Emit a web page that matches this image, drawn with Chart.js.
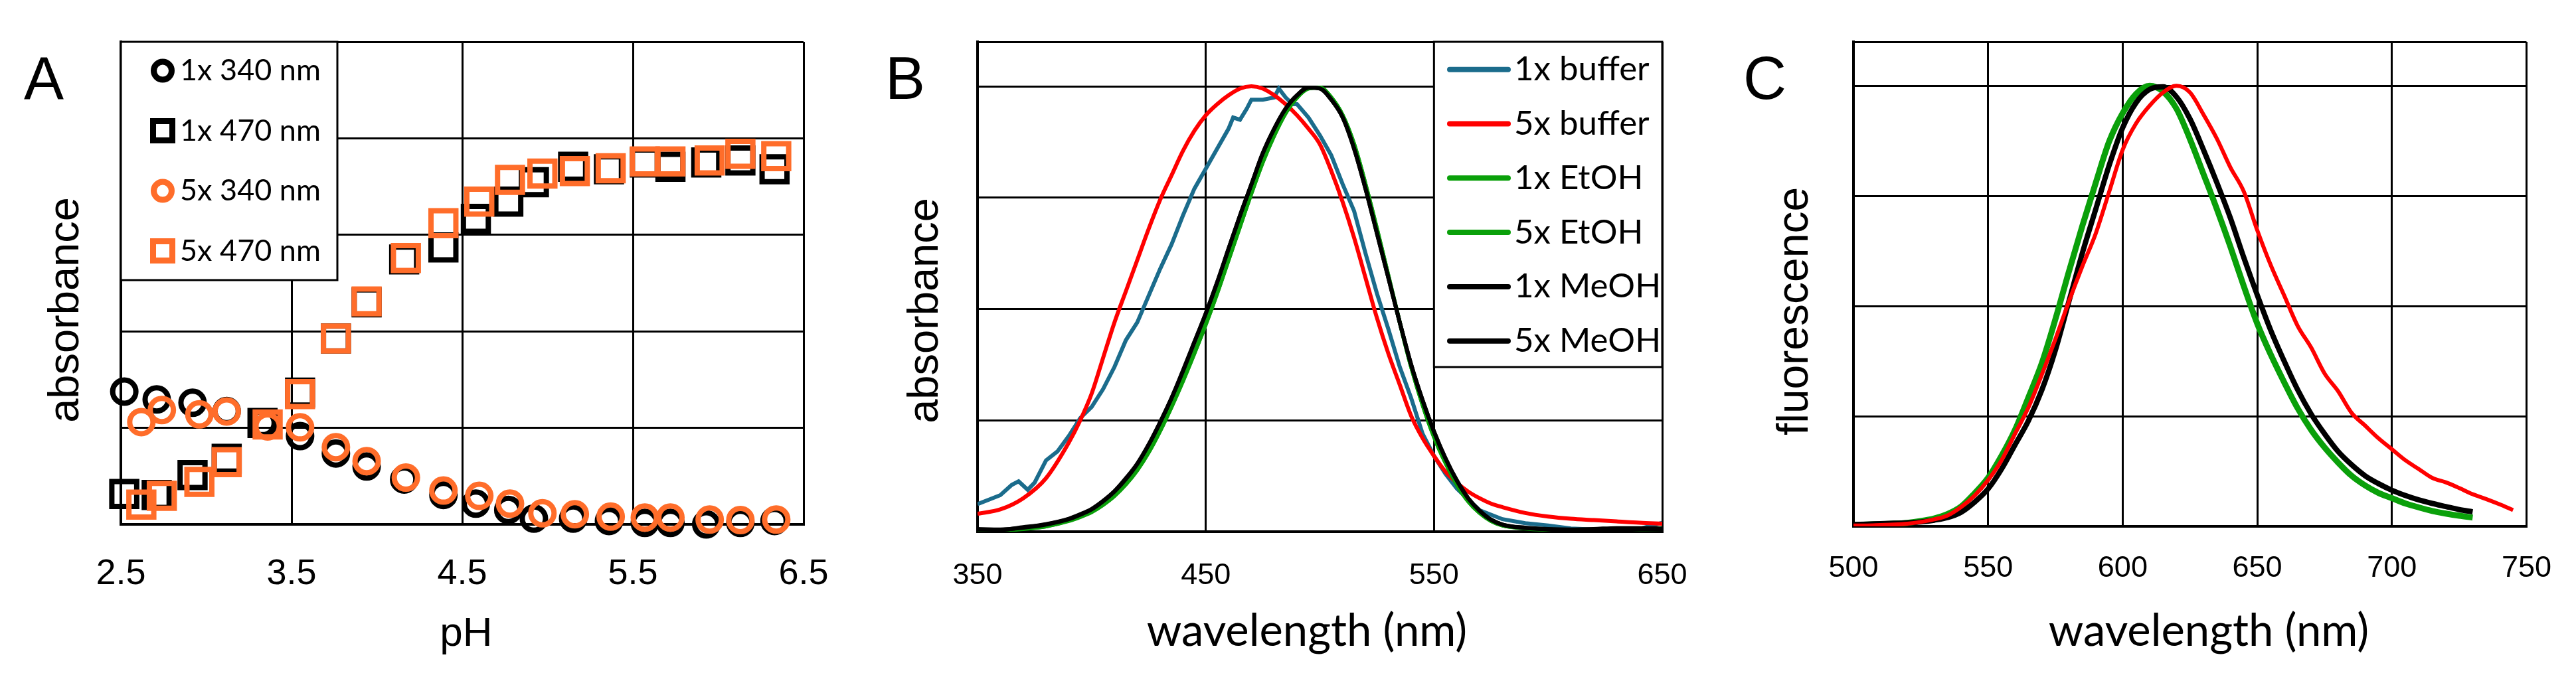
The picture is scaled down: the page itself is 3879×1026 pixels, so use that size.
<!DOCTYPE html>
<html>
<head>
<meta charset="utf-8">
<script src="https://cdn.jsdelivr.net/npm/chart.js@4.4.1/dist/chart.umd.min.js"></script>
<style>
  html, body { margin: 0; padding: 0; background: #fff; }
  body { width: 3879px; height: 1026px; position: relative; overflow: hidden; }
  canvas { position: absolute; top: 0; }
</style>
</head>
<body>
<canvas id="chartA" width="1300" height="1026" style="left:0px"></canvas>
<canvas id="chartB" width="1300" height="1026" style="left:1300px"></canvas>
<canvas id="chartC" width="1279" height="1026" style="left:2600px"></canvas>
<script>
// ---- panel A: absorbance vs pH ----
const pH1x = [2.52, 2.71, 2.92, 3.12, 3.33, 3.55, 3.76, 3.94, 4.16, 4.39, 4.58, 4.77, 4.92, 5.15, 5.36, 5.57, 5.72, 5.93, 6.13, 6.33];
const pH5x = [2.62, 2.74, 2.96, 3.12, 3.36, 3.55, 3.76, 3.94, 4.17, 4.39, 4.60, 4.78, 4.97, 5.16, 5.37, 5.57, 5.72, 5.95, 6.13, 6.34];
const abs340_1x = [0.275, 0.259, 0.252, 0.235, 0.210, 0.183, 0.147, 0.120, 0.093, 0.061, 0.043, 0.030, 0.012, 0.012, 0.007, 0.003, 0.003, 0.000, 0.003, 0.007];
const abs470_1x = [0.063, 0.061, 0.102, 0.136, 0.210, 0.273, 0.385, 0.460, 0.549, 0.574, 0.633, 0.669, 0.709, 0.741, 0.736, 0.750, 0.741, 0.750, 0.754, 0.736];
const abs340_5x = [0.212, 0.237, 0.228, 0.234, 0.203, 0.201, 0.160, 0.131, 0.097, 0.070, 0.059, 0.043, 0.023, 0.021, 0.016, 0.014, 0.014, 0.010, 0.009, 0.010];
const abs470_5x = [0.041, 0.059, 0.088, 0.129, 0.207, 0.270, 0.385, 0.462, 0.552, 0.624, 0.669, 0.714, 0.727, 0.732, 0.738, 0.752, 0.752, 0.754, 0.768, 0.763];
const ticksAx = [2.5, 3.5, 4.5, 5.5, 6.5];
const ticksAy = [0, 0.2, 0.4, 0.6, 0.8, 1.0];

// ---- panel B: absorbance spectra ----
const wlB = [350, 360, 370, 380, 390, 395, 400, 405, 410, 415, 420, 425, 430, 435, 440, 445, 450, 455, 460, 465,
  470, 475, 480, 485, 490, 495, 500, 505, 510, 515, 520, 525, 530, 535, 540, 545, 550, 555, 560, 565,
  570, 575, 580, 590, 600, 610, 620, 630, 640, 650];
const wlBuffer1x = [350, 355, 360, 365, 368, 372, 375, 380, 385, 390, 395, 400, 405, 410, 415, 420, 425, 430, 435, 440,
  445, 450, 455, 460, 462, 465, 468, 470, 475, 480, 482, 485, 488, 490, 495, 500, 505, 510, 515, 520,
  525, 530, 535, 540, 545, 550, 555, 560, 565, 570, 575, 580, 590, 600, 610, 620, 630, 640, 650];
const buffer1x = [0.062, 0.072, 0.082, 0.105, 0.113, 0.094, 0.110, 0.160, 0.180, 0.215, 0.255, 0.280, 0.320, 0.370, 0.430, 0.470, 0.530, 0.590, 0.645, 0.710,
  0.770, 0.815, 0.860, 0.905, 0.930, 0.925, 0.950, 0.970, 0.970, 0.975, 0.995, 0.975, 0.960, 0.960, 0.930, 0.890, 0.845, 0.780, 0.720, 0.625,
  0.535, 0.455, 0.370, 0.300, 0.220, 0.170, 0.130, 0.097, 0.072, 0.048, 0.038, 0.028, 0.019, 0.014, 0.007, 0.005, 0.005, 0.006, 0.020];
const buffer5x = [0.040, 0.050, 0.075, 0.120, 0.200, 0.250, 0.310, 0.390, 0.470, 0.540, 0.610, 0.680, 0.745, 0.800, 0.855, 0.900, 0.935, 0.960, 0.980, 0.995,
  1.000, 0.995, 0.980, 0.960, 0.935, 0.905, 0.870, 0.810, 0.740, 0.660, 0.570, 0.480, 0.400, 0.330, 0.260, 0.210, 0.170, 0.135, 0.110, 0.090,
  0.075, 0.063, 0.055, 0.042, 0.034, 0.029, 0.026, 0.023, 0.020, 0.018];
const etoh1x = [0.003, 0.003, 0.006, 0.012, 0.024, 0.033, 0.044, 0.060, 0.080, 0.106, 0.138, 0.178, 0.226, 0.280, 0.338, 0.400, 0.465, 0.535, 0.610, 0.685,
  0.760, 0.830, 0.890, 0.940, 0.975, 0.995, 0.997, 0.975, 0.935, 0.870, 0.780, 0.680, 0.575, 0.470, 0.370, 0.285, 0.213, 0.155, 0.106, 0.068,
  0.042, 0.024, 0.014, 0.007, 0.004, 0.003, 0.003, 0.003, 0.004, 0.006];
const etoh5x = [0.004, 0.003, 0.007, 0.012, 0.025, 0.034, 0.045, 0.061, 0.081, 0.107, 0.139, 0.179, 0.227, 0.281, 0.339, 0.401, 0.466, 0.536, 0.611, 0.686,
  0.760, 0.830, 0.890, 0.940, 0.975, 0.995, 0.997, 0.975, 0.935, 0.870, 0.780, 0.680, 0.575, 0.470, 0.370, 0.285, 0.213, 0.155, 0.106, 0.068,
  0.042, 0.024, 0.014, 0.008, 0.005, 0.004, 0.004, 0.005, 0.006, 0.008];
const meoh1x = [0.005, 0.005, 0.009, 0.016, 0.028, 0.038, 0.050, 0.068, 0.090, 0.118, 0.152, 0.195, 0.245, 0.300, 0.360, 0.425, 0.490, 0.560, 0.635, 0.710,
  0.780, 0.850, 0.905, 0.950, 0.980, 0.997, 0.995, 0.970, 0.930, 0.860, 0.770, 0.670, 0.570, 0.470, 0.375, 0.295, 0.225, 0.165, 0.115, 0.075,
  0.047, 0.027, 0.016, 0.008, 0.005, 0.004, 0.004, 0.004, 0.005, 0.005];
const meoh5x = [0.006, 0.004, 0.010, 0.017, 0.029, 0.039, 0.051, 0.069, 0.091, 0.120, 0.153, 0.196, 0.246, 0.300, 0.362, 0.426, 0.490, 0.560, 0.636, 0.710,
  0.780, 0.850, 0.905, 0.950, 0.980, 0.997, 0.995, 0.970, 0.930, 0.860, 0.770, 0.670, 0.570, 0.470, 0.375, 0.295, 0.225, 0.165, 0.115, 0.075,
  0.047, 0.027, 0.016, 0.009, 0.006, 0.005, 0.006, 0.008, 0.008, 0.007];
const ticksBx = [350, 450, 550, 650];
const ticksBy = [0, 0.25, 0.5, 0.75, 1.0, 1.1];

// ---- panel C: fluorescence spectra ----
const wlC = [500, 505, 510, 515, 520, 525, 530, 535, 540, 545, 550, 555, 560, 565, 570, 575, 580, 585, 590, 595,
  600, 605, 610, 615, 620, 625, 630, 635, 640, 645, 650, 655, 660, 665, 670, 675, 680, 685, 690, 695,
  700, 705, 710, 715, 720, 725, 730, 735, 740, 745];
const fluorGreen = [0.003, 0.004, 0.005, 0.006, 0.008, 0.012, 0.018, 0.028, 0.045, 0.075, 0.110, 0.160, 0.219, 0.293, 0.371, 0.470, 0.578, 0.682, 0.780, 0.874,
  0.938, 0.982, 1.000, 0.987, 0.948, 0.879, 0.800, 0.720, 0.635, 0.545, 0.460, 0.390, 0.327, 0.268, 0.219, 0.179, 0.145, 0.115, 0.093, 0.076,
  0.064, 0.052, 0.043, 0.035, 0.029, 0.024, 0.020];
const fluorBlack = [0.004, 0.005, 0.006, 0.007, 0.008, 0.010, 0.014, 0.020, 0.032, 0.055, 0.085, 0.130, 0.185, 0.240, 0.310, 0.400, 0.510, 0.620, 0.720, 0.820,
  0.905, 0.962, 0.992, 0.998, 0.975, 0.925, 0.855, 0.780, 0.700, 0.610, 0.525, 0.445, 0.375, 0.310, 0.255, 0.210, 0.170, 0.140, 0.115, 0.097,
  0.082, 0.070, 0.060, 0.052, 0.045, 0.038, 0.033];
const fluorRed = [0.002, 0.002, 0.003, 0.004, 0.006, 0.010, 0.016, 0.025, 0.044, 0.070, 0.105, 0.150, 0.210, 0.270, 0.345, 0.425, 0.510, 0.590, 0.665, 0.760,
  0.855, 0.915, 0.955, 0.985, 1.000, 0.985, 0.935, 0.880, 0.815, 0.760, 0.672, 0.593, 0.524, 0.455, 0.406, 0.347, 0.307, 0.258, 0.229, 0.200,
  0.175, 0.150, 0.130, 0.110, 0.100, 0.087, 0.073, 0.062, 0.050, 0.037];
const ticksCx = [500, 550, 600, 650, 700, 750];
const ticksCy = [0, 0.25, 0.5, 0.75, 1.0, 1.1];

const ORANGE = '#ff6d2a';
const TEAL = '#1b6c8c';
const RED = '#ff0000';
const GREEN = '#0aa00a';

function pts(xs, ys) {
  return ys.map((y, i) => ({ x: xs[i], y: y }));
}

// legend in a white box inside the plot, over the grid but under the data
const boxLegend = {
  id: 'boxLegend',
  beforeDatasetsDraw(chart, args, opts) {
    if (!opts.kind) return;
    const ctx = chart.ctx;
    const area = chart.chartArea;
    const left = opts.leftValue != null ? chart.scales.x.getPixelForValue(opts.leftValue) : area.left;
    const right = opts.right != null ? opts.right : area.right;
    ctx.save();
    ctx.fillStyle = '#fff';
    ctx.fillRect(left, area.top, right - left, opts.bottom - area.top);
    ctx.lineWidth = 3;
    ctx.strokeStyle = '#000';
    ctx.strokeRect(left, area.top, right - left, opts.bottom - area.top);
    chart.data.datasets.forEach((ds, i) => {
      const y = opts.firstRow + i * opts.rowStep;
      if (opts.kind === 'point') {
        ctx.strokeStyle = ds.pointBorderColor;
        ctx.fillStyle = '#fff';
        ctx.lineWidth = opts.markerBorder;
        Chart.helpers.drawPoint(ctx, {
          pointStyle: ds.pointStyle,
          rotation: 0,
          radius: ds.pointStyle === 'rect' ? opts.rectRadius : opts.circleRadius,
          borderWidth: opts.markerBorder
        }, opts.markerX, y);
      } else {
        ctx.strokeStyle = ds.borderColor;
        ctx.lineWidth = opts.lineWidth;
        ctx.lineCap = 'round';
        ctx.beginPath();
        ctx.moveTo(opts.lineFrom, y);
        ctx.lineTo(opts.lineTo, y);
        ctx.stroke();
      }
      ctx.fillStyle = '#000';
      ctx.font = opts.fontSize + 'px Lato';
      ctx.textBaseline = 'middle';
      ctx.textAlign = 'left';
      ctx.fillText(ds.label, opts.textX, y);
    });
    ctx.restore();
  }
};

// panel letter and axis titles placed where the figure has them
const panelText = {
  id: 'panelText',
  afterDraw(chart, args, opts) {
    const ctx = chart.ctx;
    ctx.save();
    ctx.fillStyle = '#000';
    ctx.textBaseline = 'alphabetic';
    ctx.textAlign = 'left';
    ctx.font = '90px "Liberation Sans"';
    ctx.fillText(opts.letter, opts.letterX, opts.letterY);
    ctx.textAlign = 'center';
    ctx.font = opts.xFont;
    ctx.fillText(opts.xTitle, opts.xTitleX, opts.xTitleY);
    ctx.translate(opts.yTitleX, opts.yTitleY);
    ctx.rotate(-Math.PI / 2);
    ctx.font = opts.yFont;
    ctx.fillText(opts.yTitle, 0, 0);
    ctx.restore();
  }
};

function makeOptions(p) {
  return {
    responsive: false,
    animation: false,
    devicePixelRatio: 1,
    events: [],
    layout: { padding: { left: 0, top: 63, right: p.padRight, bottom: 0 } },
    plugins: {
      legend: { display: false },
      tooltip: { enabled: false },
      boxLegend: p.legend,
      panelText: p.text
    },
    scales: {
      x: {
        type: 'linear',
        min: p.xTicks[0],
        max: p.xTicks[p.xTicks.length - 1],
        afterBuildTicks: s => { s.ticks = p.xTicks.map(v => ({ value: v })); },
        afterFit: s => { s.height = p.xAxisHeight; },
        grid: { color: '#000', lineWidth: 3, drawTicks: false },
        border: { color: '#000', width: 4 },
        ticks: { color: '#000', padding: p.tickPad, font: { family: 'Liberation Sans', size: p.tickSize } }
      },
      y: {
        type: 'linear',
        min: p.yTicks[0],
        max: p.yTicks[p.yTicks.length - 1],
        afterBuildTicks: s => { s.ticks = p.yTicks.map(v => ({ value: v })); },
        afterFit: s => { s.width = p.yAxisWidth; },
        grid: { color: '#000', lineWidth: 3, drawTicks: false },
        border: { color: '#000', width: 4 },
        ticks: { display: false }
      }
    }
  };
}

function markerSet(label, xs, ys, color, style, order) {
  return {
    label: label,
    data: pts(xs, ys),
    showLine: false,
    order: order,
    clip: false,
    pointStyle: style,
    pointRadius: style === 'rect' ? 26.5 : 17.5,
    pointBorderWidth: 8,
    pointBorderColor: color,
    pointBackgroundColor: 'rgba(0,0,0,0)',
    borderColor: color
  };
}

function lineSet(label, xs, ys, color, width, order, tension) {
  return {
    label: label,
    data: pts(xs, ys),
    borderColor: color,
    borderWidth: width,
    pointRadius: 0,
    order: order,
    tension: tension,
    cubicInterpolationMode: tension ? 'monotone' : 'default',
    fill: false
  };
}

Chart.register(boxLegend, panelText);

new Chart(document.getElementById('chartA'), {
  type: 'scatter',
  data: {
    datasets: [
      markerSet('1x 340 nm', pH1x, abs340_1x, '#000', 'circle', 2),
      markerSet('1x 470 nm', pH1x, abs470_1x, '#000', 'rect', 2),
      markerSet('5x 340 nm', pH5x, abs340_5x, ORANGE, 'circle', 1),
      markerSet('5x 470 nm', pH5x, abs470_5x, ORANGE, 'rect', 1)
    ]
  },
  options: makeOptions({
    padRight: 90, xAxisHeight: 236, yAxisWidth: 182,
    xTicks: ticksAx, yTicks: ticksAy, tickSize: 54, tickPad: 43,
    legend: { kind: 'point', right: 508, bottom: 422, firstRow: 106.6, rowStep: 90.5,
      markerX: 245, textX: 271, circleRadius: 13.5, rectRadius: 20.5, markerBorder: 9, fontSize: 45 },
    text: {
      letter: 'A', letterX: 36, letterY: 149,
      xTitle: 'pH', xFont: '62px "Liberation Sans"', xTitleX: 702, xTitleY: 973,
      yTitle: 'absorbance', yFont: '65px "Liberation Sans"', yTitleX: 118, yTitleY: 467
    }
  })
});

new Chart(document.getElementById('chartB'), {
  type: 'line',
  data: {
    datasets: [
      lineSet('1x buffer', wlBuffer1x, buffer1x, TEAL, 6, 4, 0),
      lineSet('5x buffer', wlB, buffer5x, RED, 6, 3, 0.4),
      lineSet('1x EtOH', wlB, etoh1x, GREEN, 6, 2, 0.4),
      lineSet('5x EtOH', wlB, etoh5x, GREEN, 6, 2, 0.4),
      lineSet('1x MeOH', wlB, meoh1x, '#000', 6, 1, 0.4),
      lineSet('5x MeOH', wlB, meoh5x, '#000', 6, 0, 0.4)
    ]
  },
  options: makeOptions({
    padRight: 97, xAxisHeight: 225, yAxisWidth: 172,
    xTicks: ticksBx, yTicks: ticksBy, tickSize: 45, tickPad: 40,
    legend: { kind: 'line', leftValue: 550, bottom: 553, firstRow: 104.7, rowStep: 81.8,
      lineFrom: 883, lineTo: 971, lineWidth: 8, textX: 980, fontSize: 51 },
    text: {
      letter: 'B', letterX: 33, letterY: 149,
      xTitle: 'wavelength (nm)', xFont: '67px Lato', xTitleX: 668, xTitleY: 973,
      yTitle: 'absorbance', yFont: '65px "Liberation Sans"', yTitleX: 112, yTitleY: 468
    }
  })
});

new Chart(document.getElementById('chartC'), {
  type: 'line',
  data: {
    datasets: [
      lineSet('EtOH', wlC, fluorGreen, GREEN, 9, 3, 0.4),
      lineSet('MeOH', wlC, fluorBlack, '#000', 8, 2, 0.4),
      lineSet('buffer', wlC, fluorRed, RED, 6, 1, 0.4)
    ]
  },
  options: makeOptions({
    padRight: 69, xAxisHeight: 233, yAxisWidth: 191,
    xTicks: ticksCx, yTicks: ticksCy, tickSize: 45, tickPad: 37,
    legend: {},
    text: {
      letter: 'C', letterX: 25, letterY: 149,
      xTitle: 'wavelength (nm)', xFont: '67px Lato', xTitleX: 726, xTitleY: 973,
      yTitle: 'fluorescence', yFont: '66px "Liberation Sans"', yTitleX: 122, yTitleY: 469
    }
  })
});
</script>
</body>
</html>
